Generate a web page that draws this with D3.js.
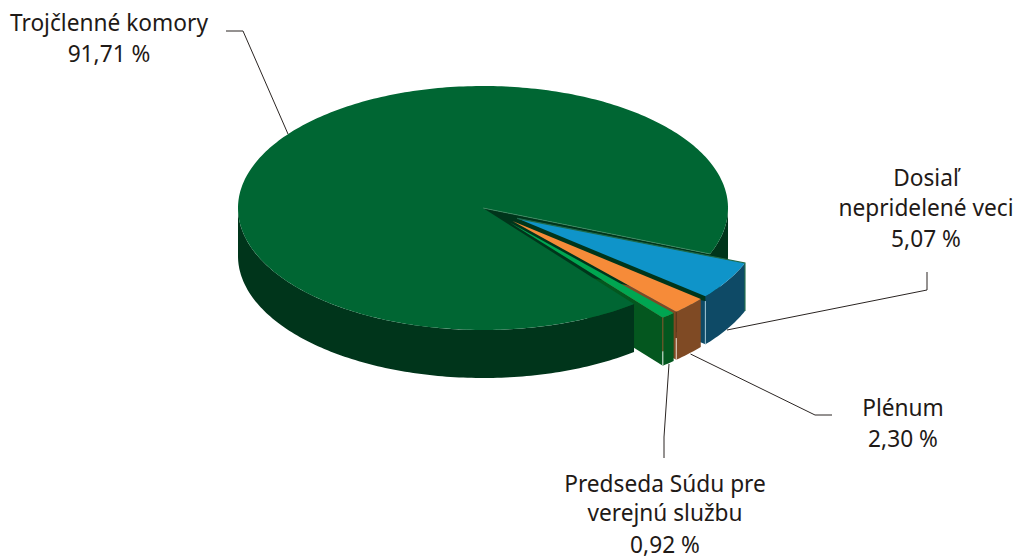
<!DOCTYPE html>
<html><head><meta charset="utf-8">
<script src="https://cdn.jsdelivr.net/npm/d3@7/dist/d3.min.js"></script>
<style>html,body{margin:0;padding:0;background:#fff}svg{display:block}text{font-family:"Noto Sans",sans-serif;font-size:22.7px;fill:#1f1a17;text-anchor:middle}</style>
</head><body><svg id="c" width="1017" height="559"></svg>
<script>
const categories=["Dosiaľ nepridelené veci","Plénum","Predseda Súdu pre verejnú službu","Trojčlenné komory"];
const values=[5.07,2.30,0.92,91.71];
const topColors=["#0f94c9","#f68b39","#00a651","#006633"];
const wallColors=["#0e4a66","#7f4a24","#04571f","#00351b"];

const svg=d3.select("#c");
const rx=245,ry=122,depth=48;
const rad=d3.scaleLinear().domain([0,360]).range([0,2*Math.PI]);
const pie=d3.pie().sort(null).value(d=>d).startAngle(rad(21.5)).endAngle(rad(381.5));
const arcs=pie(values);
const centers=[[517,218.3],[512.4,221],[509.8,222.4],[483,208]];
const turn=[0,0,0,rad(0.6)];
const P=(i,a,dz=0)=>[centers[i][0]+rx*Math.cos(a),centers[i][1]+ry*Math.sin(a)+dz];
const line=d3.line();
const sweep=(i,a0,a1,dz=0)=>{const n=Math.max(2,Math.ceil((a1-a0)/rad(1)));
  return d3.range(n+1).map(k=>P(i,a0+(a1-a0)*k/n,dz));};
const topFace=(i,a0,a1)=>line([centers[i],...sweep(i,a0,a1)])+"Z";
const side=(i,a0,a1)=>line([...sweep(i,a0,a1),...sweep(i,a0,a1,depth).reverse()])+"Z";
const cut=(i,a)=>line([centers[i],P(i,a),P(i,a,depth),[centers[i][0],centers[i][1]+depth]])+"Z";

const ang=arcs.map((d,i)=>({a0:d.startAngle+turn[i],a1:d.endAngle+turn[i]}));
const M=3;
const twoPi=2*Math.PI;
// far-side cut faces of the small wedges, later hidden by the large slice
[0,1,2].forEach(i=>svg.append("path").attr("d",cut(i,ang[i].a1)).attr("fill",wallColors[i]));
// large slice: rim, cut face, top
svg.append("path").attr("d",side(M,ang[M].a0,Math.PI)).attr("fill",wallColors[M]);
svg.append("path").attr("d",side(M,twoPi,ang[M].a1)).attr("fill",wallColors[M]);
svg.append("path").attr("d",cut(M,ang[M].a1-twoPi)).attr("fill",wallColors[M]);
svg.append("path").attr("d",topFace(M,ang[M].a0,ang[M].a1)).attr("fill",topColors[M]);
svg.append("path").attr("d",line([centers[M],P(M,ang[M].a1-twoPi)])).attr("stroke","#3f8a63").attr("stroke-width",.8).attr("fill","none");
// small wedges: the cut faces show in the gaps between neighbouring tops
[0,1,2].forEach(i=>svg.append("path").attr("d",side(i,ang[i].a0,ang[i].a1)).attr("fill",wallColors[i]));
[0,1,2].forEach(i=>svg.append("path").attr("d",topFace(i,ang[i].a0,ang[i].a1)).attr("fill",topColors[i]));
// green-tinted outline on the blue wedge's upper edge and outer corner
svg.append("path").attr("d",line([centers[0],P(0,ang[0].a0),P(0,ang[0].a0,depth)]))
  .attr("fill","none").attr("stroke","#1f6b4a").attr("stroke-width",1.2);
// thin seams at wedge corners
const seam=(i,a,f0,f1,c)=>svg.append("path").attr("d",line([P(i,a,depth*f0),P(i,a,depth*f1)]))
  .attr("fill","none").attr("stroke",c).attr("stroke-width",1);
seam(0,ang[0].a1,.1,1,"#9fc7d6");
seam(1,ang[1].a1,.0,.55,"#5a3518");seam(1,ang[1].a1,.55,1,"#e8dccf");
seam(2,ang[2].a1,.0,.7,"#8a5a30");seam(2,ang[2].a1,.7,1,"#e6efe6");

// leader lines
const leaders=[
 [[226,31],[243,31],[288,134]],
 [[927,272],[927,290],[727,330]],
 [[832,415],[815,415],[690.5,354]],
 [[664,458],[664,437],[669,364]]];
leaders.forEach(l=>svg.append("path").attr("d",line(l)).attr("fill","none").attr("stroke","#2b2523").attr("stroke-width",1));

// labels
const labels=[
 {x:109,lines:[["Trojčlenné komory",31],["91,71 %",62]]},
 {x:926,lines:[["Dosiaľ",186],["nepridelené veci",216],["5,07 %",247]]},
 {x:903,lines:[["Plénum",416],["2,30 %",447]]},
 {x:665,lines:[["Predseda Súdu pre",492],["verejnú službu",521],["0,92 %",553]]}];
labels.forEach(g=>g.lines.forEach(([t,y])=>svg.append("text").attr("x",g.x).attr("y",y).text(t)));
</script></body></html>
